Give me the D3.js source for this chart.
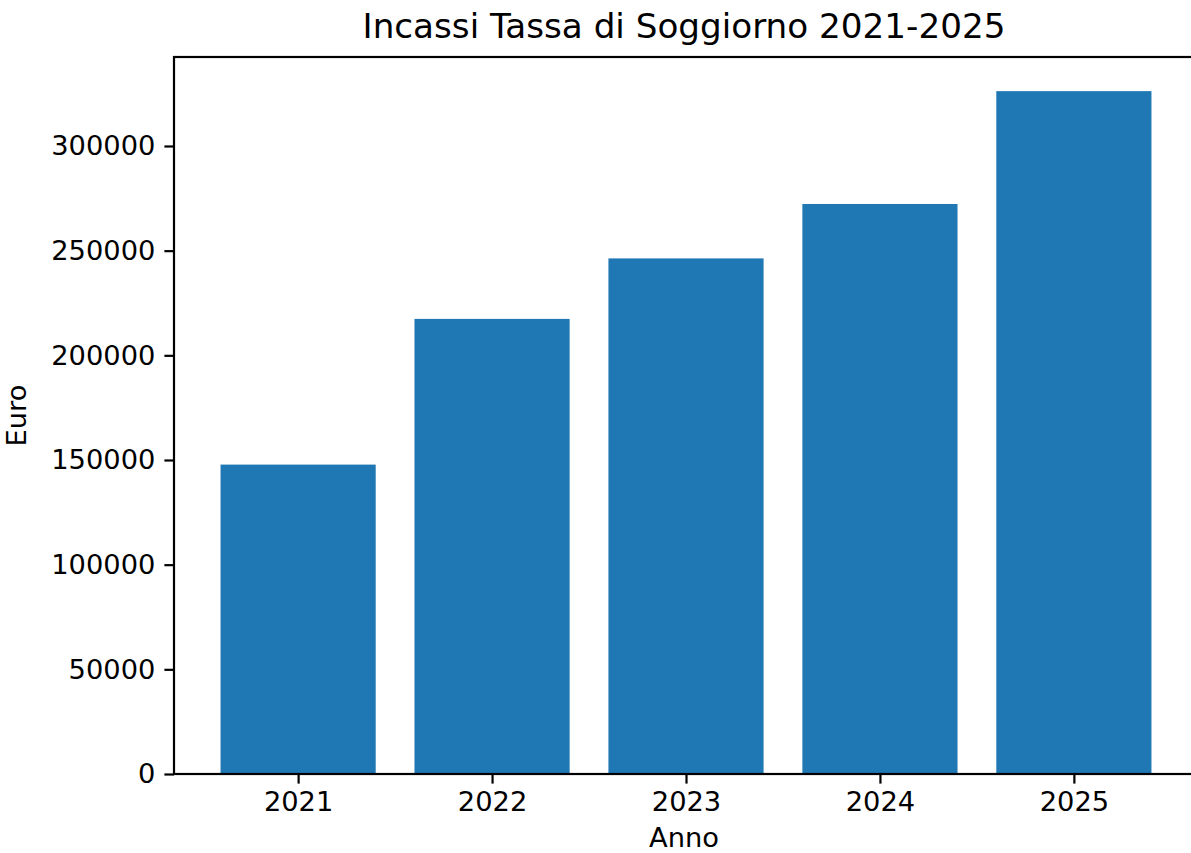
<!DOCTYPE html>
<html>
<head>
<meta charset="utf-8">
<script src="https://cdn.jsdelivr.net/npm/d3@7"></script>
<style>
  body { margin: 0; background: #fff; overflow: hidden; }
  svg text { font-family: "DejaVu Sans", sans-serif; fill: #000; }
  .axis path, .axis line { stroke: #000; stroke-width: 2.2; }
</style>
</head>
<body>
<svg width="1191" height="853"></svg>
<script>
// data
const years = ['2021', '2022', '2023', '2024', '2025']
const incassi = [147800, 217400, 246300, 272300, 326200]
const yTicks = [0, 50000, 100000, 150000, 200000, 250000, 300000]

const svg = d3.select('svg'),
  margin = {top:57,right:-7,bottom:79,left:174},
  width = svg.attr('width') - margin.left - margin.right,
  height = svg.attr('height') - margin.top - margin.bottom

const fs = 27.3

const container = svg.append('g')
  .attr('transform',`translate(${margin.left},${margin.top})`)

// matplotlib-like limits: bar width 0.8, 5% margin
const n = years.length
const xmin = -0.4 - 0.05*(n-1+0.8), xmax = n-1+0.4 + 0.05*(n-1+0.8)
const x = d3.scaleLinear().domain([xmin,xmax]).range([0,width])
const y = d3.scaleLinear().domain([0,d3.max(incassi)*1.05]).range([height,0])

container.selectAll('.bar').data(incassi)
  .enter().append('rect')
  .attr('class','bar')
  .attr('x',(d,i) => x(i-0.4))
  .attr('width',x(0.8)-x(0))
  .attr('y',d => y(d))
  .attr('height',d => height-y(d))
  .attr('fill','#1f77b4')

const xAxis = container.append('g')
  .attr('class','axis axis--x')
  .attr('transform',`translate(0,${height})`)
  .call(d3.axisBottom(x).tickValues(d3.range(n)).tickFormat(i => years[i]).tickSize(9.6).tickPadding(8).tickSizeOuter(0))
xAxis.select('.domain').remove()
xAxis.selectAll('text').attr('font-size',fs).attr('font-family','DejaVu Sans')

const yAxis = container.append('g')
  .attr('class','axis axis--y')
  .call(d3.axisLeft(y).tickValues(yTicks).tickFormat(d3.format('d')).tickSize(9.6).tickPadding(9).tickSizeOuter(0))
yAxis.select('.domain').remove()
yAxis.selectAll('text').attr('font-size',fs).attr('font-family','DejaVu Sans')

// frame
container.append('rect')
  .attr('width',width).attr('height',height)
  .attr('fill','none').attr('stroke','#000').attr('stroke-width',2.2)

svg.append('text')
  .attr('x',684).attr('y',38)
  .attr('text-anchor','middle').attr('font-size',34.2)
  .text('Incassi Tassa di Soggiorno 2021-2025')

svg.append('text')
  .attr('x',684).attr('y',847)
  .attr('text-anchor','middle').attr('font-size',fs)
  .text('Anno')

svg.append('text')
  .attr('transform',`translate(26,${margin.top+height/2}) rotate(-90)`)
  .attr('text-anchor','middle').attr('font-size',fs)
  .text('Euro')
</script>
</body>
</html>
